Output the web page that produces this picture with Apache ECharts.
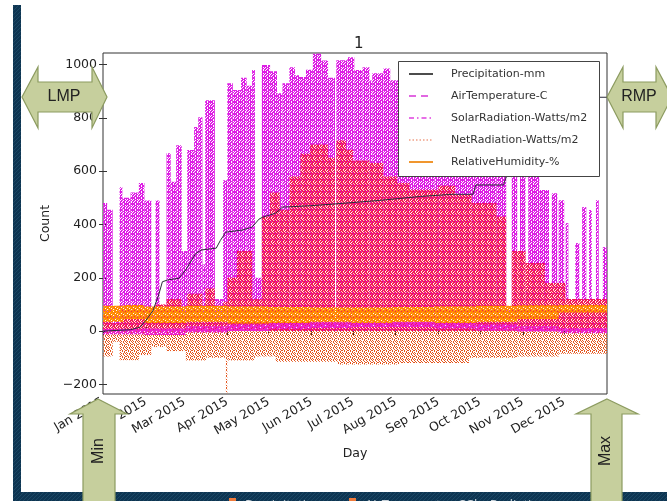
<!DOCTYPE html>
<html><head><meta charset="utf-8">
<script src="https://cdn.jsdelivr.net/npm/echarts@6/dist/echarts.min.js"></script>
<style>html,body{margin:0;padding:0;background:#fff;}#c{width:667px;height:501px;}</style>
</head><body><div id="c"></div>
<script>
// ---------- data ----------
const monthDays = [0,31,59,90,120,151,181,212,243,273,304,334];
const monthLabels = ['Jan 2015','Feb 2015','Mar 2015','Apr 2015','May 2015','Jun 2015','Jul 2015','Aug 2015','Sep 2015','Oct 2015','Nov 2015','Dec 2015'];
const yTicks = [-200,0,200,400,600,800,1000];
const END_DAY = 365;

// SolarRadiation-Watts/m2 : daily peak envelope (segment start day, peak)
const solarDay  = [0,3,7,12,14,20,26,30,35,38,41,46,49,53,57,61,66,69,72,74,81,87,90,94,100,104,108,110,115,121,126,130,135,139,142,147,152,158,163,168,169,177,182,188,193,195,203,208,215,225,240,255,270,285,292,296,300,302,306,308,316,323,325,329,330,334,335,337,342,345,347,350,352,354,357,359,362];
const solarPeak = [480,455,60,540,500,520,555,490,70,490,80,667,560,697,300,679,765,802,250,866,120,566,930,904,950,920,979,200,998,975,892,930,990,960,953,980,1040,1015,950,50,1016,1027,979,990,940,967,985,941,900,870,850,820,780,700,90,600,120,590,150,585,529,90,517,100,491,80,405,60,330,70,465,90,454,80,491,70,315];

// NetRadiation-Watts/m2 : positive envelope and nightly minimum
const netMaxDay = [0,7,12,30,35,38,46,57,61,72,74,81,87,90,97,108,115,121,128,135,143,150,163,168,169,176,181,193,203,213,222,243,255,267,285,292,296,306,320,335];
const netMax    = [70,30,80,90,40,100,120,60,140,60,160,50,110,200,300,120,430,520,455,580,665,700,650,40,715,680,640,630,580,555,530,545,510,480,430,70,300,255,180,120];
const netMinDay = [0,7,12,26,35,46,60,75,89,90,110,125,170,215,265,300,330];
const netMin    = [-95,-40,-109,-90,-60,-75,-110,-100,-233,-110,-95,-115,-125,-120,-100,-95,-85];

// RelativeHumidity-% : daily range
const rhDay  = [0,15,30,60,90,120,150,180,210,240,270,300,330];
const rhLow  = [35,45,30,35,28,30,35,30,35,30,35,45,70];
const rhHigh = [95,98,92,95,92,90,88,88,90,92,95,97,98];

// AirTemperature-C : daily range
const airDay  = [0,30,60,90,120,150,180,210,240,270,300,330];
const airLow  = [-12,-15,-5,0,8,12,15,15,10,2,-2,-8];
const airHigh = [8,10,18,25,30,32,35,33,32,25,18,12];

// Precipitation-mm : cumulative
const precipDay   = [0,20,27,31,36,40,43,47,55,60,67,71,82,85,89,101,108,113,116,125,130,150,166,200,230,253,268,270,290,292,300,320,340,358,359,365];
const precipValue = [0,5,15,40,75,130,185,192,198,230,290,304,311,340,371,379,390,420,428,442,465,470,476,490,505,513,513,548,548,578,600,680,780,866,877,877];

// ---------- helpers ----------
function segs(days, lo, hi) {
  return days.map((d, i) => [d, i + 1 < days.length ? days[i + 1] : END_DAY,
    Array.isArray(lo) ? lo[i] : lo, Array.isArray(hi) ? hi[i] : hi]);
}
function pat(rows, colors) {
  const c = document.createElement('canvas');
  c.width = rows[0].length; c.height = rows.length;
  const ctx = c.getContext('2d');
  rows.forEach((r, y) => { [...r].forEach((ch, x) => {
    if (colors[ch]) { ctx.fillStyle = colors[ch]; ctx.fillRect(x, y, 1, 1); }
  }); });
  return { image: c, repeat: 'repeat' };
}
const solarPat = pat(['MMM.MM','M.MMM.','.MM.MM','MM.MM.','M.MMM.','MMM.MM'], { M: '#dd1ee4' });
const netPosPat = pat(['RRWRR.','R.RRWR','RWR.RR','RR.RRW','WRRW.R','R.RRRR'], { R: '#f2185a', W: '#ffd2b8' });
const netNegPat = pat(['O..O..','.O..O.','O.O..O','..O.O.','O...O.','.O.O.O'], { O: '#e4561e' });
const rhPat = pat(['OOLOOO','O.OOLO','OOO.OO','LOOOO.','OO.OLO','OOOOO.'], { O: '#ff8800', L: '#ffa030' });
const airPat = pat(['PPP.','P.PP','PPPP','.PPP'], { P: '#ee22cc' });
const bandPat = pat(['BBBS','BBSB','BSBB','SBBB'], { B: '#0e3552', S: '#1c4864' });

function rectItem(fill) {
  return function (params, api) {
    const p0 = api.coord([api.value(0), api.value(3)]);
    const p1 = api.coord([api.value(1), api.value(2)]);
    const cs = params.coordSys;
    const r = echarts.graphic.clipRectByRect(
      { x: p0[0], y: p0[1], width: p1[0] - p0[0], height: p1[1] - p0[1] },
      { x: cs.x, y: cs.y, width: cs.width, height: cs.height });
    return r && { type: 'rect', shape: r, style: { fill: fill } };
  };
}
function customSeries(name, data, fill, z) {
  return { type: 'custom', name: name, data: data, renderItem: rectItem(fill), z: z,
    encode: { x: [0, 1], y: [2, 3] }, silent: true };
}

const FONT = 'DejaVu Sans';
const txt = '#222';
const chart = echarts.init(document.getElementById('c'), null, { renderer: 'canvas' });

const arrowFill = '#c6cf9d', arrowStroke = '#8c9b60';
function hArrow(tipL, headL, headR, tipR) {
  return [[tipL, 97], [headL, 67], [headL, 82], [headR, 82], [headR, 67], [tipR, 97], [headR, 128], [headR, 112], [headL, 112], [headL, 128]];
}
function vArrow(tipX, left, sL, sR, right) {
  return [[tipX, 399], [right, 414], [sR, 414], [sR, 520], [sL, 520], [sL, 414], [left, 414]];
}

const legendRows = [
  { name: 'Precipitation-mm', color: '#111', dash: null, w: 1.5 },
  { name: 'AirTemperature-C', color: '#d836d8', dash: [7, 5], w: 1.6 },
  { name: 'SolarRadiation-Watts/m2', color: '#e040e0', dash: [5, 3, 1.5, 3], w: 1.6 },
  { name: 'NetRadiation-Watts/m2', color: '#e8704a', dash: [1.5, 2], w: 1.2 },
  { name: 'RelativeHumidity-%', color: '#f0962e', dash: null, w: 2 }
];
const legendGraphics = [{ type: 'rect', shape: { x: 398.5, y: 61.5, width: 201, height: 115 },
  style: { fill: '#fff', stroke: '#444', lineWidth: 1 }, z: 100 }];
legendRows.forEach((r, i) => {
  const y = 74 + i * 22;
  legendGraphics.push({ type: 'line', shape: { x1: 409, y1: y, x2: 433, y2: y },
    style: { stroke: r.color, lineWidth: r.w, lineDash: r.dash || null }, z: 101 });
  legendGraphics.push({ type: 'text', x: 451, y: y, z: 101,
    style: { text: r.name, fill: '#333', font: '11px "' + FONT + '"', verticalAlign: 'middle', align: 'left' } });
});

const slideGraphics = [
  { type: 'rect', shape: { x: 13, y: 5, width: 8, height: 496 }, style: { fill: bandPat }, z: 90 },
  { type: 'rect', shape: { x: 13, y: 492, width: 654, height: 9 }, style: { fill: bandPat }, z: 90 },
  { type: 'rect', shape: { x: 229, y: 498, width: 7, height: 7 }, style: { fill: '#f07a3a' }, z: 91 },
  { type: 'text', x: 245, y: 499, z: 91, style: { text: 'Precipitation-mm', fill: '#c8d2da', font: '13px "Open Sans"' } },
  { type: 'rect', shape: { x: 349, y: 498, width: 7, height: 7 }, style: { fill: '#f07a3a' }, z: 91 },
  { type: 'text', x: 365, y: 499, z: 91, style: { text: 'AirTemperature-C', fill: '#c8d2da', font: '13px "Open Sans"' } },
  { type: 'text', x: 459, y: 499, z: 91, style: { text: 'SolarRadiation', fill: '#c8d2da', font: '13px "Open Sans"' } },
  { type: 'polygon', shape: { points: hArrow(22, 38, 92, 107) }, style: { fill: arrowFill, stroke: arrowStroke, lineWidth: 1.2 }, z: 110 },
  { type: 'text', x: 64, y: 97, z: 111, style: { text: 'LMP', fill: '#222', font: '16px "Liberation Sans"', align: 'center', verticalAlign: 'middle' } },
  { type: 'polygon', shape: { points: hArrow(607, 623, 656, 672) }, style: { fill: arrowFill, stroke: arrowStroke, lineWidth: 1.2 }, z: 110 },
  { type: 'text', x: 639, y: 97, z: 111, style: { text: 'RMP', fill: '#222', font: '16px "Liberation Sans"', align: 'center', verticalAlign: 'middle' } },
  { type: 'polygon', shape: { points: vArrow(98, 70, 83, 115, 127) }, style: { fill: arrowFill, stroke: arrowStroke, lineWidth: 1.2 }, z: 110 },
  { type: 'text', x: 99, y: 451, rotation: Math.PI / 2, z: 111, style: { text: 'Min', fill: '#222', font: '16px "Liberation Sans"', align: 'center', verticalAlign: 'middle' } },
  { type: 'polygon', shape: { points: vArrow(607, 576, 591, 622, 638) }, style: { fill: arrowFill, stroke: arrowStroke, lineWidth: 1.2 }, z: 110 },
  { type: 'text', x: 606, y: 451, rotation: Math.PI / 2, z: 111, style: { text: 'Max', fill: '#222', font: '16px "Liberation Sans"', align: 'center', verticalAlign: 'middle' } }
];

const tickStyle = { inside: true, length: 4, lineStyle: { color: '#333', width: 1 } };
const option = {
  animation: false,
  backgroundColor: '#fff',
  title: { text: '1', left: 349, top: 32, textStyle: { fontSize: 15, fontWeight: 'normal', color: txt, fontFamily: FONT } },
  grid: { left: 103, top: 53, width: 504, height: 341, containLabel: false, outerBoundsMode: 'none',
    show: true, borderColor: '#333', borderWidth: 1, backgroundColor: 'transparent' },
  xAxis: [
    { type: 'value', min: 0, max: END_DAY, position: 'bottom',
      axisLine: { show: false }, splitLine: { show: false },
      axisTick: Object.assign({ customValues: monthDays }, tickStyle),
      axisLabel: { customValues: monthDays, rotate: 30, margin: 7, fontSize: 12.5, color: txt, fontFamily: FONT, hideOverlap: false,
        formatter: v => monthLabels[monthDays.indexOf(v)] || '' },
      name: 'Day', nameLocation: 'middle', nameGap: 53,
      nameTextStyle: { fontSize: 12.5, color: txt, fontFamily: FONT } },
    { type: 'value', min: 0, max: END_DAY, position: 'top',
      axisLine: { show: false }, splitLine: { show: false },
      axisTick: Object.assign({ customValues: monthDays }, tickStyle), axisLabel: { show: false } }
  ],
  yAxis: [
    { type: 'value', min: -236, max: 1043, position: 'left',
      axisLine: { show: false }, splitLine: { show: false },
      axisTick: Object.assign({ customValues: yTicks }, tickStyle),
      axisLabel: { customValues: yTicks, margin: 6, fontSize: 12.5, color: txt, fontFamily: FONT,
        formatter: v => v < 0 ? '\u2212' + (-v) : String(v) },
      name: 'Count', nameLocation: 'middle', nameGap: 47, nameRotate: 90,
      nameTextStyle: { fontSize: 12.5, color: txt, fontFamily: FONT } },
    { type: 'value', min: -236, max: 1043, position: 'right',
      axisLine: { show: false }, splitLine: { show: false },
      axisTick: Object.assign({ customValues: yTicks }, tickStyle), axisLabel: { show: false } }
  ],
  series: [
    customSeries('SolarRadiation-Watts/m2', segs(solarDay, 0, solarPeak), solarPat, 2),
    customSeries('NetRadiation-Watts/m2', segs(netMaxDay, 0, netMax), netPosPat, 3),
    customSeries('NetRadiation-Watts/m2 (night)', segs(netMinDay, netMin, 0), netNegPat, 3),
    customSeries('AirTemperature-C', segs(airDay, airLow, airHigh), airPat, 4),
    customSeries('RelativeHumidity-%', segs(rhDay, rhLow, rhHigh), rhPat, 5),
    { type: 'line', name: 'Precipitation-mm', data: precipDay.map((d, i) => [d, precipValue[i]]),
      showSymbol: false, symbol: 'none', lineStyle: { color: '#2a2a3a', width: 1 }, z: 6, silent: true }
  ],
  graphic: { elements: legendGraphics.concat(slideGraphics) }
};
chart.setOption(option);
</script></body></html>
